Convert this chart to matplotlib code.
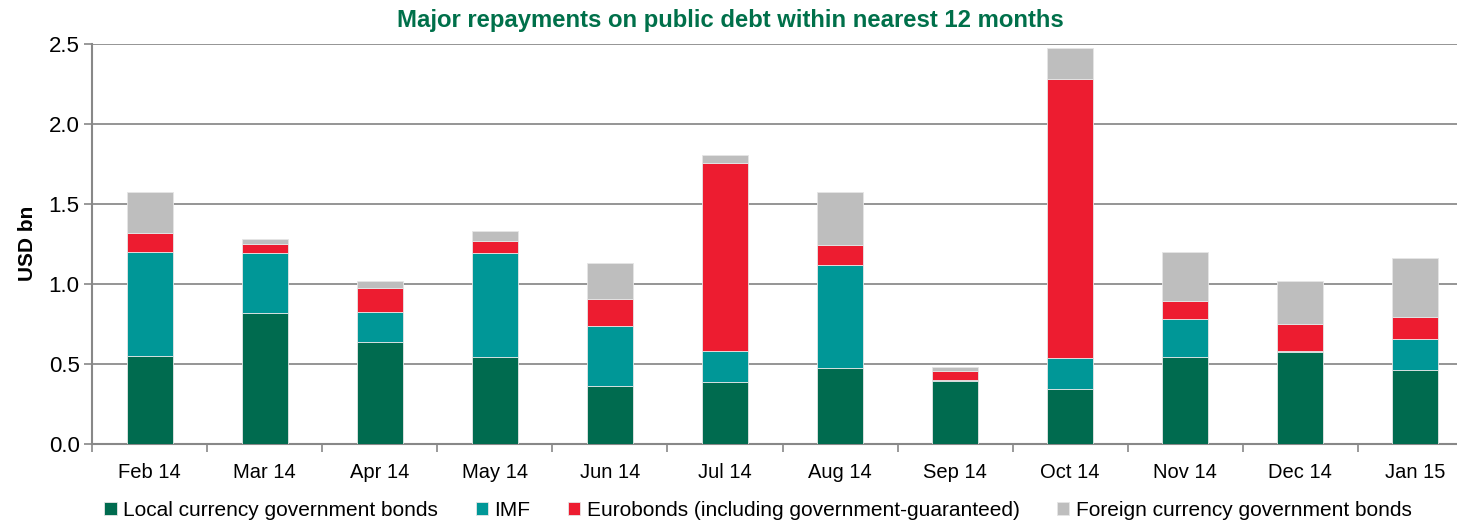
import matplotlib.pyplot as plt
import numpy as np

# -----------------------------
# Data
# -----------------------------
months = ["Feb 14", "Mar 14", "Apr 14", "May 14", "Jun 14", "Jul 14",
          "Aug 14", "Sep 14", "Oct 14", "Nov 14", "Dec 14", "Jan 15"]

local_bonds = [0.547, 0.818, 0.633, 0.543, 0.361, 0.382, 0.470, 0.388, 0.344, 0.543, 0.572, 0.457]
imf = [0.649, 0.374, 0.192, 0.649, 0.372, 0.194, 0.649, 0.009, 0.193, 0.238, 0.006, 0.194]
eurobonds = [0.121, 0.059, 0.150, 0.075, 0.169, 1.180, 0.121, 0.058, 1.747, 0.110, 0.167, 0.140]
foreign_bonds = [0.257, 0.027, 0.040, 0.063, 0.230, 0.050, 0.332, 0.023, 0.190, 0.305, 0.274, 0.372]

series = [
    ("Local currency government bonds", local_bonds, "#006B4F"),
    ("IMF", imf, "#009797"),
    ("Eurobonds (including government-guaranteed)", eurobonds, "#ED1C30"),
    ("Foreign currency government bonds", foreign_bonds, "#BEBEBE"),
]

plt.rcParams["font.family"] = ["Liberation Sans", "DejaVu Sans"]

# -----------------------------
# Plot
# -----------------------------
W, H = 1457, 522
fig = plt.figure(figsize=(W / 100, H / 100), dpi=100)
# plot area runs past the right edge of the image, as in the original
ax = fig.add_axes([92 / W, 1 - 443.5 / H, (1473 - 92) / W, (443.5 - 44) / H])

x = np.arange(len(months))
bottom = np.zeros(len(months))
for name, vals, color in series:
    ax.bar(x, vals, width=0.4, bottom=bottom, color=color, label=name,
           edgecolor="#E6E6E6", linewidth=0.6, zorder=3)
    bottom += np.array(vals)

# -----------------------------
# Formatting
# -----------------------------
ax.set_xlim(-0.5, len(months) - 0.5)
ax.set_ylim(0, 2.5)
ax.set_yticks(np.arange(0, 2.51, 0.5))
ax.set_yticklabels([f"{v:.1f}" for v in np.arange(0, 2.51, 0.5)], fontsize=16)
ax.set_xticks(x)
ax.set_xticklabels(months, fontsize=14.5)
ax.set_xticks(np.arange(-0.5, len(months), 1), minor=True)
ax.tick_params(axis="x", which="major", length=0, pad=14)
ax.tick_params(axis="x", which="minor", length=6, color="#888888", width=1.2)
ax.tick_params(axis="y", length=6, color="#888888", width=1.2, pad=3)

for s in ["top", "right"]:
    ax.spines[s].set_visible(False)
for s in ["left", "bottom"]:
    ax.spines[s].set_color("#888888")
    ax.spines[s].set_linewidth(1.5)

ax.grid(axis="y", color="#8C8C8C", linewidth=1.3, zorder=0)
ax.set_axisbelow(True)

ax.set_ylabel("USD bn", fontsize=15, fontweight="bold", labelpad=8)

fig.text(730 / W, 1 - 20 / H, "Major repayments on public debt within nearest 12 months",
         ha="center", va="center", fontsize=17.2, fontweight="bold", color="#00704A")

fig.legend(loc="center", bbox_to_anchor=(758 / W, 1 - 510 / H), ncol=4, frameon=False,
           fontsize=15, handlelength=0.6, handleheight=0.6, handletextpad=0.3,
           columnspacing=1.8)

fig.savefig("out.png", dpi=100)
